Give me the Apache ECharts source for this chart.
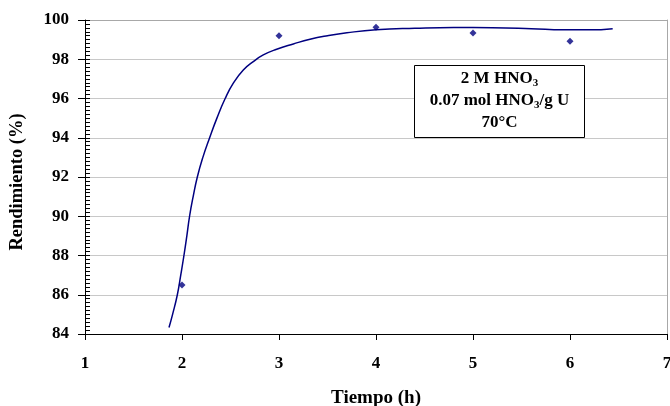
<!DOCTYPE html>
<html><head><meta charset="utf-8">
<script src="https://cdn.jsdelivr.net/npm/echarts@6/dist/echarts.min.js"></script>
<style>html,body{margin:0;padding:0;background:#fff}#c{width:670px;height:406px}</style>
</head><body><div id="c"></div>
<script>
var pointX = [2, 3, 4, 5, 6];
var pointY = [86.5, 99.2, 99.63, 99.34, 98.92];
var curveX = [1.866, 1.903, 1.952, 1.987, 2.02, 2.05, 2.078, 2.115, 2.158, 2.215, 2.285, 2.36, 2.445, 2.529, 2.632, 2.735, 2.838, 2.976, 3.148, 3.32, 3.5, 3.7, 4.0, 4.4, 4.8, 5.2, 5.6, 5.93, 6.2, 6.44];
var curveY = [84.33, 85, 86, 87, 88, 89, 90, 91, 92, 93, 94, 95, 96, 96.78, 97.45, 97.88, 98.22, 98.51, 98.78, 99.02, 99.2, 99.35, 99.5, 99.58, 99.62, 99.61, 99.56, 99.5, 99.5, 99.56];
var xTicks = [1, 2, 3, 4, 5, 6, 7];
var yTicks = [84, 86, 88, 90, 92, 94, 96, 98, 100];
var xTitle = 'Tiempo (h)';
var yTitle = 'Rendimiento (%)';

var FONT = '"Liberation Serif", "Times New Roman", serif';
var chart = echarts.init(document.getElementById('c'));
chart.setOption({
  animation: false,
  grid: {left: 85, right: 3, top: 20, bottom: 72, outerBoundsMode: 'none', containLabel: false},
  xAxis: [{
    type: 'value', min: xTicks[0], max: xTicks[xTicks.length-1], interval: 1,
    axisLine: {lineStyle: {color: '#000', width: 1}},
    axisTick: {length: 6, lineStyle: {color: '#000'}},
    axisLabel: {color: '#000', fontFamily: FONT, fontWeight: 'bold', fontSize: 17, margin: 21},
    splitLine: {show: false},
    name: xTitle, nameLocation: 'middle', nameGap: 55,
    nameTextStyle: {color: '#000', fontFamily: FONT, fontWeight: 'bold', fontSize: 19}
  }, {
    type: 'value', position: 'top', min: 1, max: 7,
    axisLine: {show: true, lineStyle: {color: '#a8a8a8'}},
    axisTick: {show: false}, axisLabel: {show: false}, splitLine: {show: false}
  }],
  yAxis: [{
    type: 'value', min: yTicks[0], max: yTicks[yTicks.length-1], interval: 2,
    axisLine: {show: true, lineStyle: {color: '#000'}},
    axisTick: {show: true, length: 7, lineStyle: {color: '#000'}},
    axisLabel: {color: '#000', fontFamily: FONT, fontWeight: 'bold', fontSize: 17, margin: 16},
    splitLine: {show: true, lineStyle: {color: '#c8c8c8', width: 1}},
    name: yTitle, nameLocation: 'middle', nameGap: 58,
    nameTextStyle: {color: '#000', fontFamily: FONT, fontWeight: 'bold', fontSize: 18.5, padding: [0, 10, 0, 0]}
  }, {
    type: 'value', position: 'left', min: 84, max: 100, interval: 0.2,
    axisLine: {show: false},
    axisTick: {show: true, inside: true, length: 5, lineStyle: {color: '#000'}},
    axisLabel: {show: false}, splitLine: {show: false}
  }, {
    type: 'value', position: 'right', min: 84, max: 100, interval: 2,
    axisLine: {show: true, lineStyle: {color: '#a8a8a8'}},
    axisTick: {show: false}, axisLabel: {show: false}, splitLine: {show: false}
  }],
  series: [{
    type: 'line', smooth: 0.5, showSymbol: false, silent: true,
    data: curveX.map(function(x, i){ return [x, curveY[i]]; }),
    lineStyle: {color: '#000080', width: 1.5}
  }, {
    type: 'scatter', symbol: 'diamond', symbolSize: 7,
    data: pointX.map(function(x, i){ return [x, pointY[i]]; }),
    itemStyle: {color: '#000080'}
  }],
  graphic: [{
    type: 'rect', z: 10, shape: {x: 414.5, y: 65.5, width: 170, height: 72},
    style: {fill: '#fff', stroke: '#000', lineWidth: 1}
  }, {
    type: 'text', z: 11, x: 499.5, y: 68,
    style: {
      text: '{b|2 M HNO}{s|3}\n{b|0.07 mol HNO}{s|3}{b|/g U}\n{b|70°C}',
      align: 'center', verticalAlign: 'top',
      rich: {
        b: {fontFamily: FONT, fontWeight: 'bold', fontSize: 17, fill: '#000', lineHeight: 22},
        s: {fontFamily: FONT, fontWeight: 'bold', fontSize: 11, fill: '#000', lineHeight: 22, padding: [8, 0, 0, 0]}
      }
    }
  }]
});
</script></body></html>
